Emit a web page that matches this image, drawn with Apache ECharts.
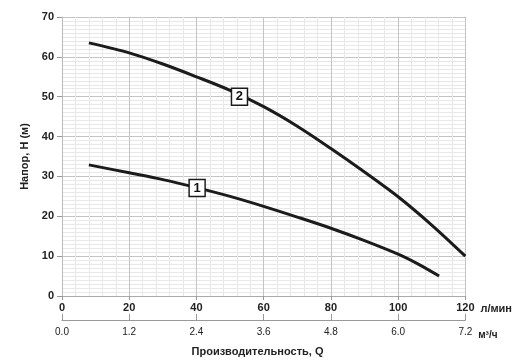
<!DOCTYPE html>
<html><head><meta charset="utf-8">
<script src="https://cdn.jsdelivr.net/npm/echarts@6/dist/echarts.min.js"></script>
<style>html,body{margin:0;padding:0;background:#fff}#c{width:515px;height:360px}</style>
</head><body><div id="c"></div>
<script>
// Data (Q in l/min, H in m)
const q1 = [8, 20, 30, 40, 50, 60, 70, 80, 90, 100, 106, 112.2];
const h1 = [32.9, 30.9, 29.2, 27.2, 25.0, 22.5, 19.8, 17.0, 13.9, 10.5, 8.0, 5.0];
const q2 = [8, 20, 30, 40, 50, 60, 70, 80, 90, 100, 110, 120];
const h2 = [63.5, 61.0, 58.2, 55.0, 51.6, 47.5, 42.6, 37.0, 31.1, 24.9, 17.8, 10.0];
const labels = [{name: '1', q: 40.2, h: 27.1}, {name: '2', q: 52.8, h: 50.0}];
const qTicksM3 = [0, 1.2, 2.4, 3.6, 4.8, 6.0, 7.2];

const font = '"Liberation Sans", Arial, sans-serif';
const chart = echarts.init(document.getElementById('c'), null, {renderer: 'canvas'});
const lineStyle = {color: '#1b1b1b', width: 3};
function mp(l) {
  return {markPoint: {symbol: 'rect', symbolSize: [16, 17], silent: true,
    itemStyle: {color: '#fff', borderColor: '#1b1b1b', borderWidth: 1.5},
    label: {show: true, position: 'inside', color: '#111', fontFamily: font, fontWeight: 'bold', fontSize: 13, formatter: l.name},
    data: [{coord: [l.q, l.h]}]}};
}
chart.setOption({
  animation: false,
  grid: {left: 62, right: 47, top: 17, bottom: 64, show: false},
  xAxis: [{
    type: 'value', min: 0, max: 120, interval: 20, position: 'bottom',
    name: 'л/мин', nameLocation: 'end', nameGap: 10,
    nameTextStyle: {color: '#222', fontFamily: font, fontWeight: 'bold', fontSize: 11, verticalAlign: 'top', padding: [7, 0, 0, 0]},
    axisLine: {show: true, lineStyle: {color: '#aaa', width: 1}},
    axisTick: {show: true, length: 4, lineStyle: {color: '#999'}},
    axisLabel: {color: '#222', fontFamily: font, fontWeight: 'bold', fontSize: 11, margin: 6},
    splitLine: {show: true, lineStyle: {color: '#c4c4c4', width: 1}},
    minorTick: {show: true, splitNumber: 5, length: 0},
    minorSplitLine: {show: true, lineStyle: {color: '#e8e8e8', width: 1}}
  }, {
    type: 'value', min: 0, max: 7.2, interval: 1.2, position: 'bottom', offset: 24,
    name: 'м³/ч', nameLocation: 'end', nameGap: 12,
    nameTextStyle: {color: '#222', fontFamily: font, fontWeight: 'bold', fontSize: 10, verticalAlign: 'top', padding: [10, 0, 0, 0]},
    axisLine: {show: true, lineStyle: {color: '#999', width: 1}},
    axisTick: {show: true, inside: true, length: 6, lineStyle: {color: '#999'}},
    axisLabel: {color: '#222', fontFamily: font, fontSize: 10, margin: 7, formatter: v => v.toFixed(1)},
    splitLine: {show: false}
  }],
  yAxis: {
    type: 'value', min: 0, max: 70, interval: 10,
    name: 'Напор, H (м)', nameLocation: 'middle', nameGap: 29, nameRotate: 90,
    nameTextStyle: {color: '#222', fontFamily: font, fontWeight: 'bold', fontSize: 11},
    axisLine: {show: true, lineStyle: {color: '#bbb', width: 1}},
    axisTick: {show: true, length: 5, lineStyle: {color: '#999'}},
    axisLabel: {color: '#222', fontFamily: font, fontWeight: 'bold', fontSize: 11, margin: 8},
    splitLine: {show: true, lineStyle: {color: '#c4c4c4', width: 1}},
    minorTick: {show: true, splitNumber: 10, length: 0},
    minorSplitLine: {show: true, lineStyle: {color: '#e8e8e8', width: 1}}
  },
  graphic: [{type: 'text', left: 'center', top: 346,
    style: {text: 'Производительность, Q', fill: '#222', font: 'bold 11px ' + font}}],
  series: [
    Object.assign({type: 'line', xAxisIndex: 0, smooth: 0.3, symbol: 'none', lineStyle: lineStyle, z: 3,
      data: q1.map((q, i) => [q, h1[i]])}, mp(labels[0])),
    Object.assign({type: 'line', xAxisIndex: 0, smooth: 0.3, symbol: 'none', lineStyle: lineStyle, z: 3,
      data: q2.map((q, i) => [q, h2[i]])}, mp(labels[1]))
  ]
});
</script></body></html>
